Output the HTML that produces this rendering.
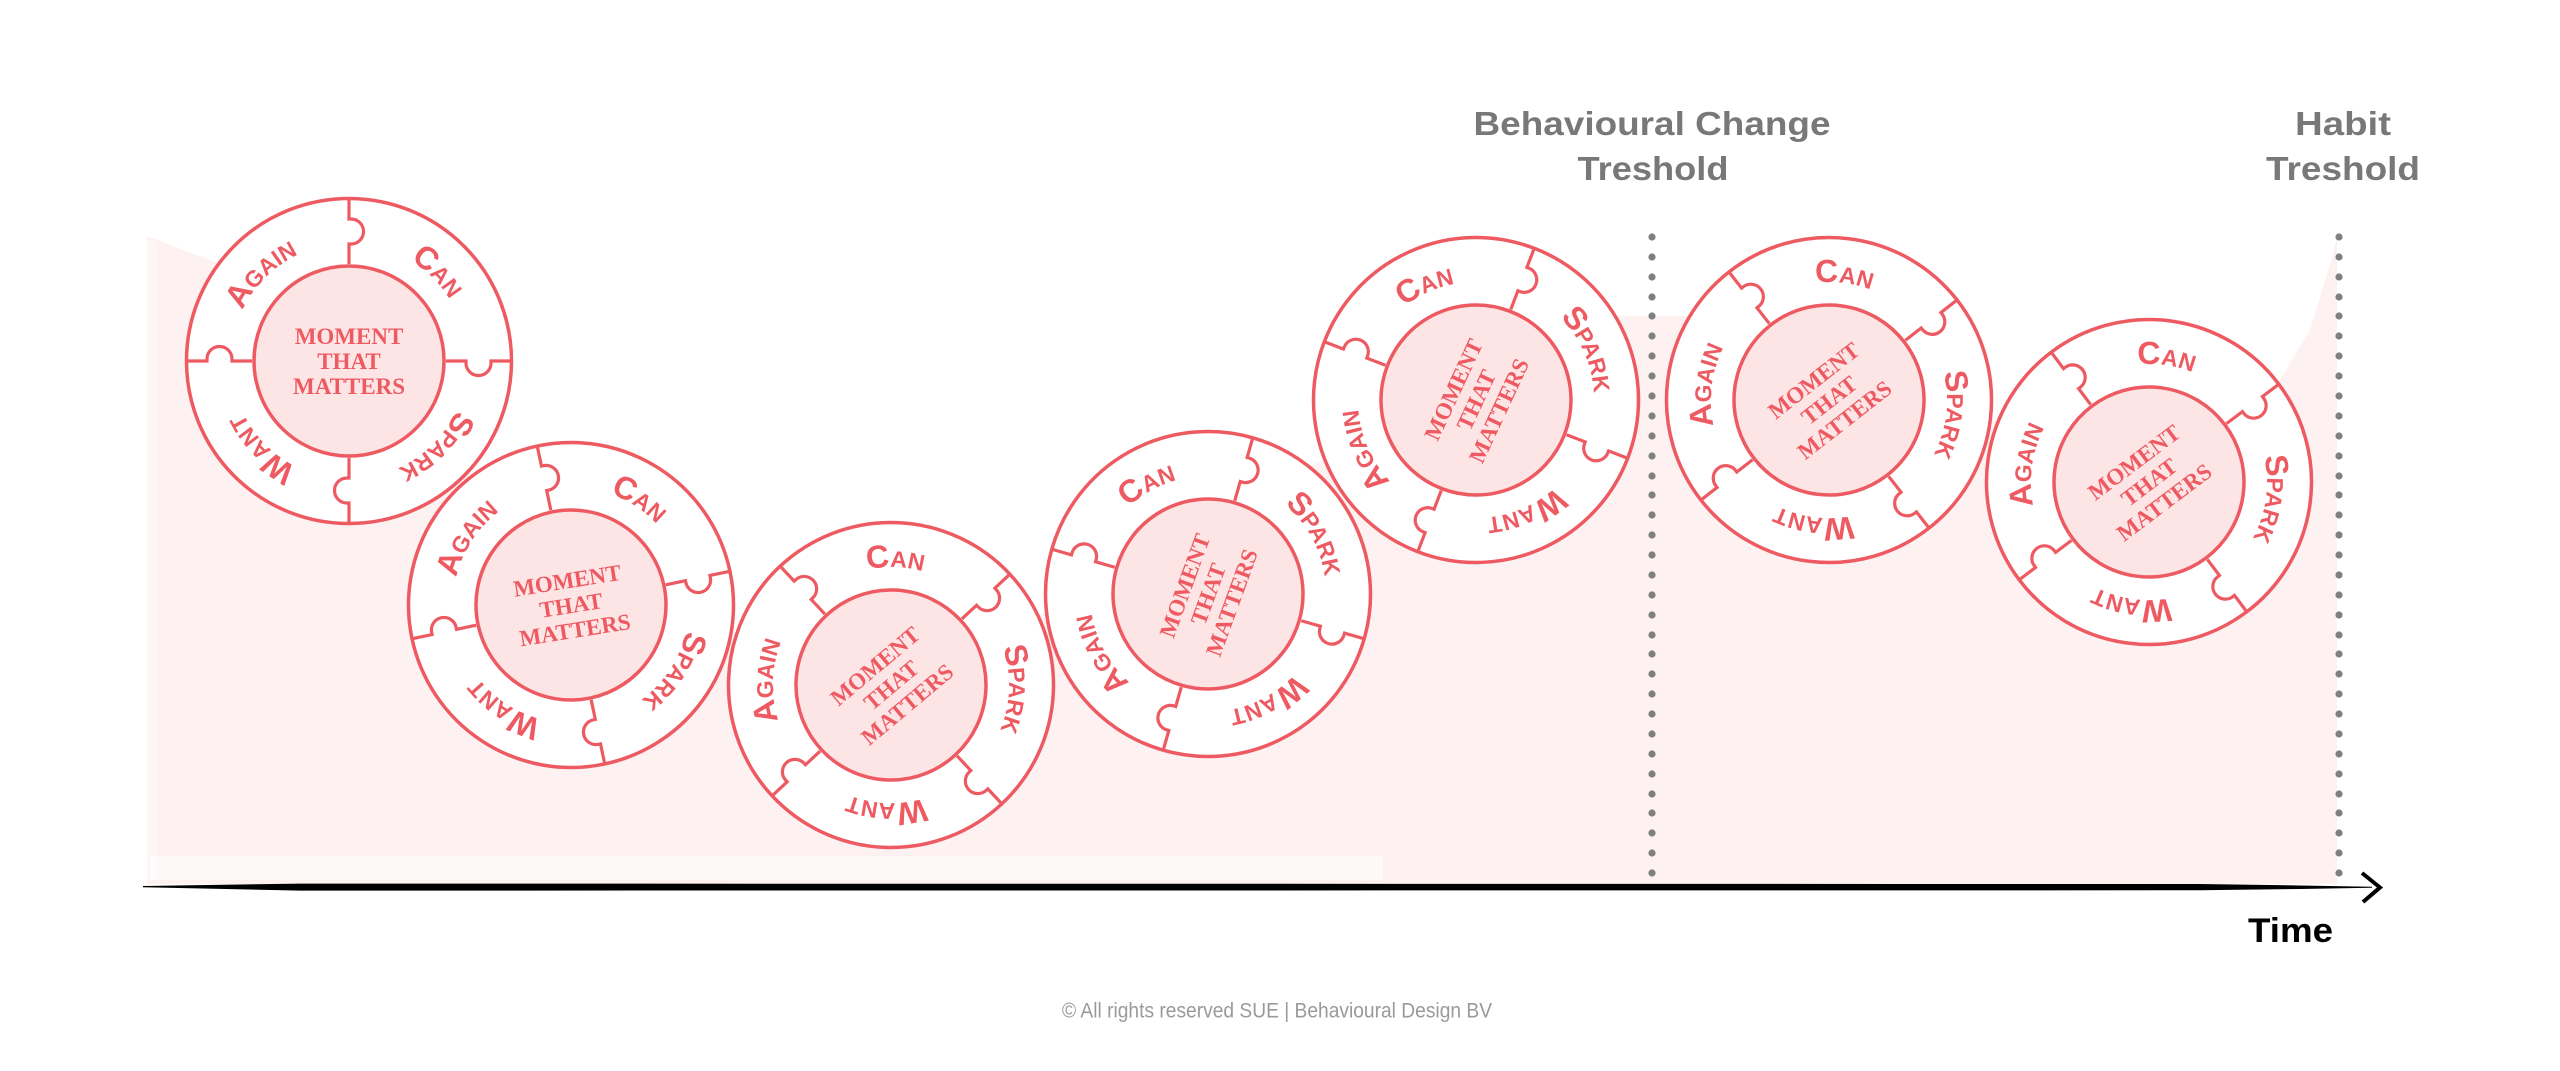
<!DOCTYPE html>
<html>
<head>
<meta charset="utf-8">
<style>
  html, body { margin: 0; padding: 0; background: #ffffff; }
  svg { display: block; }
</style>
</head>
<body>
<svg xmlns="http://www.w3.org/2000/svg" width="2560" height="1071" viewBox="0 0 2560 1071">
  <defs>
    <path id="arc" d="M-118,0 A118,118 0 0 1 118,0" fill="none"/>
    <g id="ring">
      <circle r="162.5" fill="none" stroke="#ee5a61" stroke-width="3.5"/>
      <circle r="95" fill="#fde5e6" stroke="#ee5a61" stroke-width="3.5"/>
      <g fill="none" stroke="#ee5a61" stroke-width="3.2">
        <path d="M0,-161 V-142 H2 A12.5,12.5 0 0 1 2,-117 H0 V-97"/>
        <path transform="rotate(90)" d="M0,-161 V-142 H2 A12.5,12.5 0 0 1 2,-117 H0 V-97"/>
        <path transform="rotate(180)" d="M0,-161 V-142 H2 A12.5,12.5 0 0 1 2,-117 H0 V-97"/>
        <path transform="rotate(270)" d="M0,-161 V-142 H2 A12.5,12.5 0 0 1 2,-117 H0 V-97"/>
      </g>
      <g font-family="'Liberation Sans', sans-serif" font-weight="bold" fill="#ee5a61" font-size="23">
        <g transform="rotate(-45)"><text><textPath href="#arc" startOffset="50%" text-anchor="middle"><tspan font-size="32">A</tspan>GAIN</textPath></text></g>
        <g transform="rotate(45)"><text><textPath href="#arc" startOffset="50%" text-anchor="middle"><tspan font-size="32">C</tspan>AN</textPath></text></g>
        <g transform="rotate(135)"><text><textPath href="#arc" startOffset="50%" text-anchor="middle"><tspan font-size="32">S</tspan>PARK</textPath></text></g>
        <g transform="rotate(225)"><text><textPath href="#arc" startOffset="50%" text-anchor="middle"><tspan font-size="32">W</tspan>ANT</textPath></text></g>
      </g>
    </g>
    <g id="mtm" font-family="'Liberation Serif', serif" font-weight="bold" font-size="23" fill="#ee5a61" text-anchor="middle">
      <text x="0" y="-17">MOMENT</text>
      <text x="0" y="8">THAT</text>
      <text x="0" y="33">MATTERS</text>
    </g>
  </defs>

  <!-- pink background area -->
  <path d="M147,236 L215,262 L300,330 L420,430 L571,560 L730,640 L891,690 L1045,612 L1208,520 L1380,430 L1476,380 L1600,316 L1700,316 L1829,380 L1990,420 L2149,440 L2278,383 L2310,330 L2333,255 L2337,236 L2337,884 L147,884 Z" fill="#fdf1f1"/>
  <rect x="150" y="856" width="1233" height="24" fill="#ffffff" opacity="0.55"/>
  <rect x="147" y="240" width="10" height="640" fill="#ffffff" opacity="0.4"/>

  <!-- dotted threshold lines -->
  <g fill="#7f7f7f">
    <circle cx="1652" cy="237" r="3.6"/><circle cx="1652" cy="257" r="3.6"/><circle cx="1652" cy="277" r="3.6"/><circle cx="1652" cy="297" r="3.6"/>
    <circle cx="1652" cy="316" r="3.6"/><circle cx="1652" cy="336" r="3.6"/><circle cx="1652" cy="356" r="3.6"/><circle cx="1652" cy="376" r="3.6"/>
    <circle cx="1652" cy="396" r="3.6"/><circle cx="1652" cy="416" r="3.6"/><circle cx="1652" cy="436" r="3.6"/><circle cx="1652" cy="456" r="3.6"/>
    <circle cx="1652" cy="476" r="3.6"/><circle cx="1652" cy="495" r="3.6"/><circle cx="1652" cy="515" r="3.6"/><circle cx="1652" cy="535" r="3.6"/>
    <circle cx="1652" cy="555" r="3.6"/><circle cx="1652" cy="575" r="3.6"/><circle cx="1652" cy="595" r="3.6"/><circle cx="1652" cy="615" r="3.6"/>
    <circle cx="1652" cy="635" r="3.6"/><circle cx="1652" cy="654" r="3.6"/><circle cx="1652" cy="674" r="3.6"/><circle cx="1652" cy="694" r="3.6"/>
    <circle cx="1652" cy="714" r="3.6"/><circle cx="1652" cy="734" r="3.6"/><circle cx="1652" cy="754" r="3.6"/><circle cx="1652" cy="774" r="3.6"/>
    <circle cx="1652" cy="794" r="3.6"/><circle cx="1652" cy="813" r="3.6"/><circle cx="1652" cy="833" r="3.6"/><circle cx="1652" cy="853" r="3.6"/>
    <circle cx="1652" cy="873" r="3.6"/>

    <circle cx="2339" cy="237" r="3.6"/><circle cx="2339" cy="257" r="3.6"/><circle cx="2339" cy="277" r="3.6"/><circle cx="2339" cy="297" r="3.6"/>
    <circle cx="2339" cy="316" r="3.6"/><circle cx="2339" cy="336" r="3.6"/><circle cx="2339" cy="356" r="3.6"/><circle cx="2339" cy="376" r="3.6"/>
    <circle cx="2339" cy="396" r="3.6"/><circle cx="2339" cy="416" r="3.6"/><circle cx="2339" cy="436" r="3.6"/><circle cx="2339" cy="456" r="3.6"/>
    <circle cx="2339" cy="476" r="3.6"/><circle cx="2339" cy="495" r="3.6"/><circle cx="2339" cy="515" r="3.6"/><circle cx="2339" cy="535" r="3.6"/>
    <circle cx="2339" cy="555" r="3.6"/><circle cx="2339" cy="575" r="3.6"/><circle cx="2339" cy="595" r="3.6"/><circle cx="2339" cy="615" r="3.6"/>
    <circle cx="2339" cy="635" r="3.6"/><circle cx="2339" cy="654" r="3.6"/><circle cx="2339" cy="674" r="3.6"/><circle cx="2339" cy="694" r="3.6"/>
    <circle cx="2339" cy="714" r="3.6"/><circle cx="2339" cy="734" r="3.6"/><circle cx="2339" cy="754" r="3.6"/><circle cx="2339" cy="774" r="3.6"/>
    <circle cx="2339" cy="794" r="3.6"/><circle cx="2339" cy="813" r="3.6"/><circle cx="2339" cy="833" r="3.6"/><circle cx="2339" cy="853" r="3.6"/>
    <circle cx="2339" cy="873" r="3.6"/>
  </g>

  <!-- white fills of wheels -->
  <g fill="#ffffff">
    <circle cx="349" cy="361" r="162.5"/>
    <circle cx="571" cy="605" r="162.5"/>
    <circle cx="891" cy="685" r="162.5"/>
    <circle cx="1208" cy="594" r="162.5"/>
    <circle cx="1476" cy="400" r="162.5"/>
    <circle cx="1829" cy="400" r="162.5"/>
    <circle cx="2149" cy="482" r="162.5"/>
  </g>

  <!-- wheels -->
  <use href="#ring" transform="translate(349,361) rotate(0)"/>
  <use href="#mtm" transform="translate(349,361) rotate(0)"/>

  <use href="#ring" transform="translate(571,605) rotate(-12)"/>
  <use href="#mtm" transform="translate(571,605) rotate(-9)"/>

  <use href="#ring" transform="translate(891,685) rotate(-43)"/>
  <use href="#mtm" transform="translate(891,685) rotate(-40)"/>

  <use href="#ring" transform="translate(1208,594) rotate(-74)"/>
  <use href="#mtm" transform="translate(1208,594) rotate(-70)"/>

  <use href="#ring" transform="translate(1476,400) rotate(-69)"/>
  <use href="#mtm" transform="translate(1476,400) rotate(-65)"/>

  <use href="#ring" transform="translate(1829,400) rotate(-38)"/>
  <use href="#mtm" transform="translate(1829,400) rotate(-38)"/>

  <use href="#ring" transform="translate(2149,482) rotate(-37)"/>
  <use href="#mtm" transform="translate(2149,482) rotate(-37)"/>

  <!-- axis -->
  <path d="M143,886 L300,883.6 L2200,884 L2300,885.5 L2372,886.8 L2372,887.8 L2300,889 L2200,890.3 L300,890.6 L143,887.2 Z" fill="#000000"/>
  <polyline points="2362,873 2380,887.5 2363,902" fill="none" stroke="#000000" stroke-width="4" stroke-linejoin="miter"/>

  <!-- titles -->
  <g font-family="'Liberation Sans', sans-serif" font-weight="bold" font-size="33" fill="#787878" text-anchor="middle">
    <text x="1652" y="135" textLength="357" lengthAdjust="spacingAndGlyphs">Behavioural Change</text>
    <text x="1653" y="180" textLength="151" lengthAdjust="spacingAndGlyphs">Treshold</text>
    <text x="2343" y="135" textLength="96" lengthAdjust="spacingAndGlyphs">Habit</text>
    <text x="2343" y="180" textLength="154" lengthAdjust="spacingAndGlyphs">Treshold</text>
  </g>

  <text x="2290.5" y="942" font-family="'Liberation Sans', sans-serif" font-weight="bold" font-size="34" fill="#000000" text-anchor="middle" textLength="85" lengthAdjust="spacingAndGlyphs">Time</text>

  <text x="1277" y="1017.5" font-family="'Liberation Sans', sans-serif" font-size="21" fill="#9a9a9a" text-anchor="middle" textLength="430" lengthAdjust="spacingAndGlyphs">© All rights reserved SUE | Behavioural Design BV</text>
</svg>
</body>
</html>
